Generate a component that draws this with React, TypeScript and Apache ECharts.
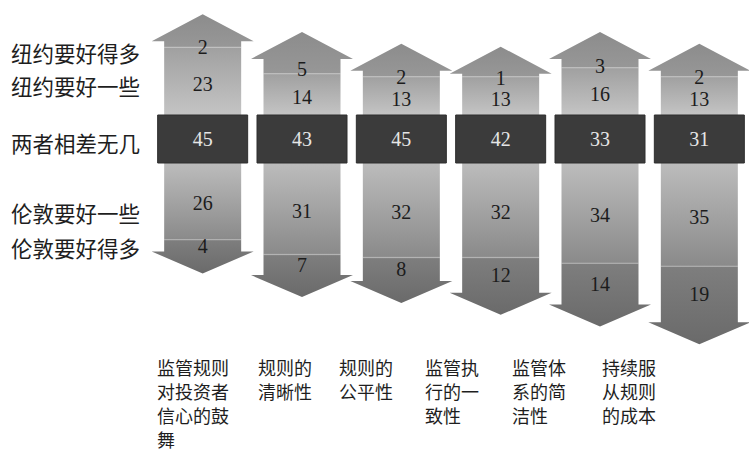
import React, { useEffect, useRef } from "react";
import * as echarts from "echarts";

const categories = [
  "监管规则\n对投资者\n信心的鼓\n舞",
  "规则的\n清晰性",
  "规则的\n公平性",
  "监管执\n行的一\n致性",
  "监管体\n系的简\n洁性",
  "持续服\n从规则\n的成本",
];
const nyMuchBetter = [2, 5, 2, 1, 3, 2];
const nySomewhatBetter = [23, 14, 13, 13, 16, 13];
const noDifference = [45, 43, 45, 42, 33, 31];
const londonSomewhatBetter = [26, 31, 32, 32, 34, 35];
const londonMuchBetter = [4, 7, 8, 12, 14, 19];
const rowLabels = ["纽约要好得多", "纽约要好一些", "两者相差无几", "伦敦要好一些", "伦敦要好得多"];

// layout constants
const K = 2.95; // px per unit
const Y_MAX = 46;
const Y_MIN = -103;
const CENTER_Y = 139;
const BAND = 24 / K; // half band height in axis units
const rowLabelY = [52, 85, 142, 212, 247];
const catLabelX = [157, 258, 339, 425, 512, 602];

const numFont = "serif";
const cjkFont = "Noto Sans CJK SC";

export default function App() {
  const ref = useRef<HTMLDivElement>(null);
  useEffect(() => {
    if (!ref.current) return;
    const chart = echarts.init(ref.current, undefined, { renderer: "svg" });
    const data = categories.map((_, i) => [
      i,
      nyMuchBetter[i],
      nySomewhatBetter[i],
      noDifference[i],
      londonSomewhatBetter[i],
      londonMuchBetter[i],
    ]);
    const SW = 38.5;
    const HW = 51;
    const BW = 45;
    const HEAD_UP = 27;
    const HEAD_DN = 22;
    const numStyle = (text: string, x: number, y: number, fill = "#1c1c1c") => ({
      type: "text",
      x,
      y,
      style: {
        text,
        fill,
        fontSize: 20,
        fontFamily: numFont,
        align: "center",
        verticalAlign: "middle",
      },
    });
    const renderItem = (params: any, api: any) => {
      const i = api.value(0);
      const a = api.value(1);
      const b = api.value(2);
      const c = api.value(3);
      const d = api.value(4);
      const e = api.value(5);
      const cx = api.coord([i, 0])[0];
      const y = (v: number) => api.coord([i, v])[1];
      const yBandTop = y(BAND);
      const yBandBot = y(-BAND);
      const yUpMid = y(BAND + b);
      const yUpEnd = y(BAND + b + a);
      const tipUp = yUpEnd - HEAD_UP;
      const yDnMid = y(-BAND - d);
      const yDnEnd = y(-BAND - d - e);
      const tipDn = yDnEnd + HEAD_DN;
      return {
        type: "group",
        children: [
          {
            type: "polygon",
            shape: {
              points: [
                [cx - SW, yUpMid],
                [cx - SW, yUpEnd],
                [cx - HW, yUpEnd],
                [cx, tipUp],
                [cx + HW, yUpEnd],
                [cx + SW, yUpEnd],
                [cx + SW, yUpMid],
              ],
            },
            style: {
              fill: new echarts.graphic.LinearGradient(0, 0, 0, 1, [
                { offset: 0, color: "#8c8c8c" },
                { offset: 1, color: "#979797" },
              ]),
            },
          },
          {
            type: "rect",
            shape: { x: cx - SW, y: yUpMid, width: SW * 2, height: yBandTop - yUpMid },
            style: {
              fill: new echarts.graphic.LinearGradient(0, 0, 0, 1, [
                { offset: 0, color: "#a0a0a0" },
                { offset: 1, color: "#c4c4c4" },
              ]),
            },
          },
          {
            type: "line",
            shape: { x1: cx - SW, y1: yUpMid, x2: cx + SW, y2: yUpMid },
            style: { stroke: "rgba(255,255,255,0.2)", lineWidth: 1.5 },
          },
          {
            type: "rect",
            shape: { x: cx - SW, y: yBandBot, width: SW * 2, height: yDnMid - yBandBot },
            style: {
              fill: new echarts.graphic.LinearGradient(0, 0, 0, 1, [
                { offset: 0, color: "#bcbcbc" },
                { offset: 1, color: "#8a8a8a" },
              ]),
            },
          },
          {
            type: "polygon",
            shape: {
              points: [
                [cx - SW, yDnMid],
                [cx - SW, yDnEnd],
                [cx - HW, yDnEnd],
                [cx, tipDn],
                [cx + HW, yDnEnd],
                [cx + SW, yDnEnd],
                [cx + SW, yDnMid],
              ],
            },
            style: {
              fill: new echarts.graphic.LinearGradient(0, 0, 0, 1, [
                { offset: 0, color: "#7e7e7e" },
                { offset: 1, color: "#6a6a6a" },
              ]),
            },
          },
          {
            type: "line",
            shape: { x1: cx - SW, y1: yDnMid, x2: cx + SW, y2: yDnMid },
            style: { stroke: "rgba(255,255,255,0.2)", lineWidth: 1.5 },
          },
          {
            type: "rect",
            shape: { x: cx - BW, y: yBandTop, width: BW * 2, height: yBandBot - yBandTop },
            style: { fill: "#3b3b3b", stroke: "#2e2e2e", lineWidth: 1 },
          },
          numStyle(String(a), cx, (yUpMid + yUpEnd) / 2 + 3),
          numStyle(String(b), cx, (yBandTop + yUpMid) / 2 + 3),
          numStyle(String(c), cx, (yBandTop + yBandBot) / 2, "#e6e6e6"),
          numStyle(String(d), cx, (yBandBot + yDnMid) / 2 + 2),
          numStyle(String(e), cx, (yDnMid + yDnEnd) / 2),
        ],
      };
    };
    const graphics: any[] = [];
    rowLabels.forEach((t, i) => {
      graphics.push({
        type: "text",
        x: 11,
        y: rowLabelY[i],
        style: {
          text: t,
          fill: "#1e1e1e",
          fontSize: 21.5,
          fontFamily: cjkFont,
          verticalAlign: "middle",
        },
      });
    });
    categories.forEach((t, i) => {
      graphics.push({
        type: "text",
        x: catLabelX[i],
        y: 355,
        style: {
          text: t,
          fill: "#1e1e1e",
          fontSize: 18,
          lineHeight: 24,
          fontFamily: cjkFont,
          verticalAlign: "top",
        },
      });
    });
    chart.setOption({
      animation: false,
      backgroundColor: "#ffffff",
      grid: {
        left: 153,
        width: 600,
        top: CENTER_Y - Y_MAX * K,
        height: (Y_MAX - Y_MIN) * K,
      },
      xAxis: {
        type: "category",
        data: categories,
        show: false,
      },
      yAxis: {
        type: "value",
        min: Y_MIN,
        max: Y_MAX,
        show: false,
      },
      series: [
        {
          type: "custom",
          renderItem,
          data,
          encode: { x: 0, y: 3 },
          clip: false,
        },
      ],
      graphic: graphics,
    });
    return () => chart.dispose();
  }, []);
  return (
    <div
      ref={ref}
      style={{ position: "fixed", left: 0, top: 0, width: 749, height: 450, background: "#fff" }}
    />
  );
}
